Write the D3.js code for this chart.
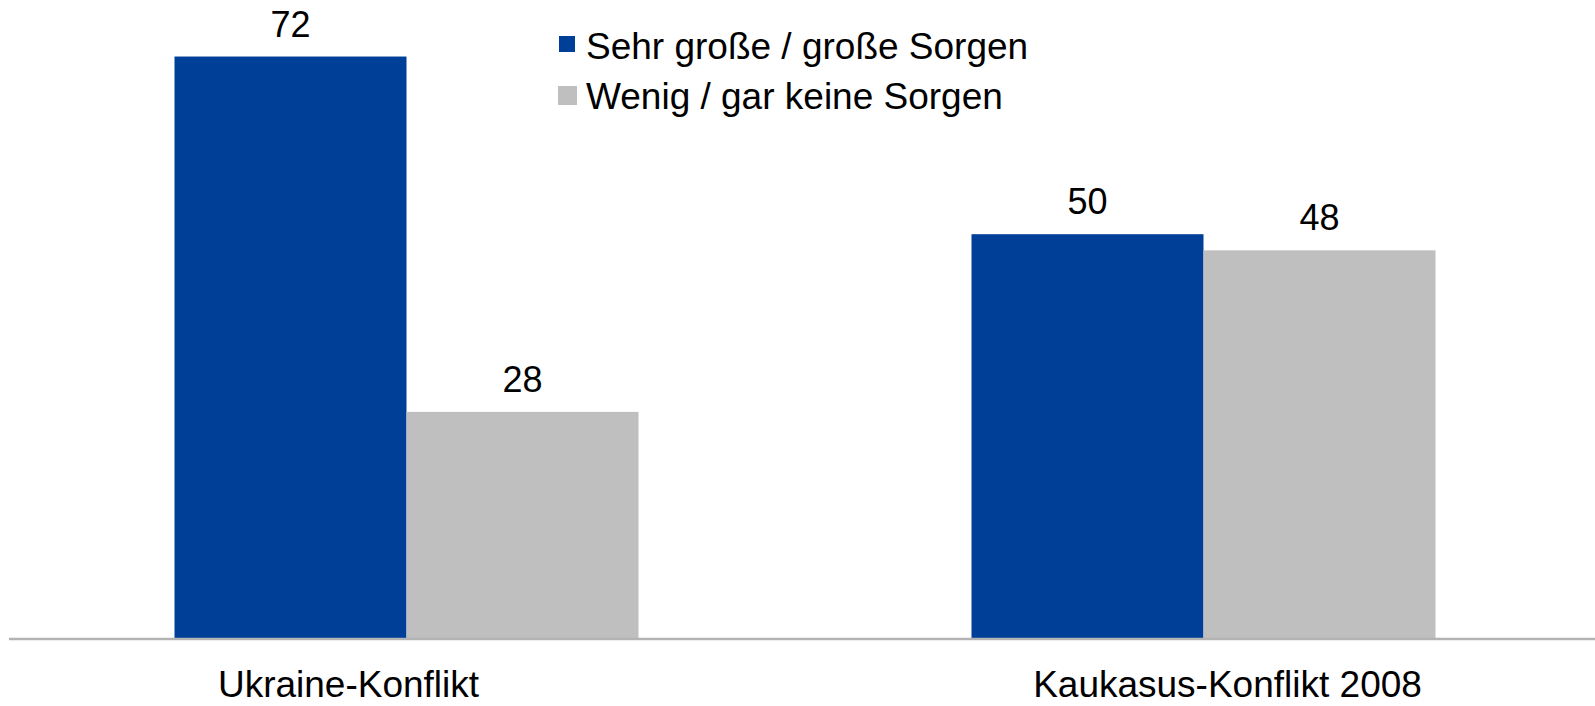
<!DOCTYPE html>
<html>
<head>
<meta charset="utf-8">
<script src="https://cdn.jsdelivr.net/npm/d3@7"></script>
<style>
  html, body { margin: 0; padding: 0; background: #ffffff; }
  svg { display: block; }
  text { font-family: "Liberation Sans", Arial, sans-serif; fill: #000; }
</style>
</head>
<body>
<svg id="chart" width="1595" height="706"></svg>
<script>
// Survey: level of concern about two conflicts (percent)
const categories = ["Ukraine-Konflikt", "Kaukasus-Konflikt 2008"];
const seriesNames = ["Sehr große / große Sorgen", "Wenig / gar keine Sorgen"];
const seriesConcerned = [72, 50];
const seriesNotConcerned = [28, 48];

// Layout
const W = 1595, H = 706;
const baseY = 638;
const colors = ["#003F97", "#BFBFBF"];
const groupWidth = 464;
const labelShift = [-58, 24];   // horizontal nudge of category labels

const svg = d3.select("#chart");

const rows = categories.map((c, i) => ({
  category: c,
  values: [seriesConcerned[i], seriesNotConcerned[i]]
}));

const x0 = d3.scaleBand().domain(categories).range([8, 1602]).padding(0);
const x1 = d3.scaleBand().domain(seriesNames).range([0, groupWidth]).padding(0);
const y = d3.scaleLinear().domain([0, 79]).range([baseY, 0]);

const groups = svg.append("g")
  .selectAll("g")
  .data(rows)
  .join("g")
  .attr("transform", d => `translate(${x0(d.category) + x0.bandwidth() / 2 - groupWidth / 2},0)`);

const bars = groups.selectAll("g.bar")
  .data(d => d.values.map((v, k) => ({ name: seriesNames[k], value: v, k })))
  .join("g").attr("class", "bar");

bars.append("rect")
  .attr("x", d => x1(d.name))
  .attr("y", d => y(d.value))
  .attr("width", x1.bandwidth())
  .attr("height", d => baseY - y(d.value))
  .attr("fill", d => colors[d.k]);

bars.append("text")
  .attr("x", d => x1(d.name) + x1.bandwidth() / 2)
  .attr("y", d => y(d.value) - 20)
  .attr("text-anchor", "middle")
  .style("font-size", "36px")
  .text(d => d.value);

// Category axis
const axis = d3.axisBottom(x0).tickSize(0).tickPadding(0).tickFormat(() => "");
const axisG = svg.append("g").attr("transform", `translate(0,${baseY + 1})`).call(axis);
axisG.select(".domain").remove();
axisG.append("line")
  .attr("x1", 9).attr("x2", W)
  .attr("y1", 0).attr("y2", 0)
  .attr("stroke", "#b3b3b3").attr("stroke-width", 2.5);

svg.append("g").selectAll("text")
  .data(categories)
  .join("text")
  .attr("x", (d, i) => x0(d) + x0.bandwidth() / 2 + labelShift[i])
  .attr("y", 697)
  .attr("text-anchor", "middle")
  .style("font-size", "37px")
  .text(d => d);

// Legend
const legend = svg.append("g");
const legendRows = [
  { name: seriesNames[0], color: colors[0], sx: 559, sy: 36, size: 16, ty: 59 },
  { name: seriesNames[1], color: colors[1], sx: 558, sy: 86, size: 19, ty: 109 }
];
legend.selectAll("rect")
  .data(legendRows)
  .join("rect")
  .attr("x", d => d.sx).attr("y", d => d.sy)
  .attr("width", d => d.size).attr("height", d => d.size)
  .attr("fill", d => d.color);
legend.selectAll("text")
  .data(legendRows)
  .join("text")
  .attr("x", 586)
  .attr("y", d => d.ty)
  .style("font-size", "37px")
  .text(d => d.name);
</script>
</body>
</html>
